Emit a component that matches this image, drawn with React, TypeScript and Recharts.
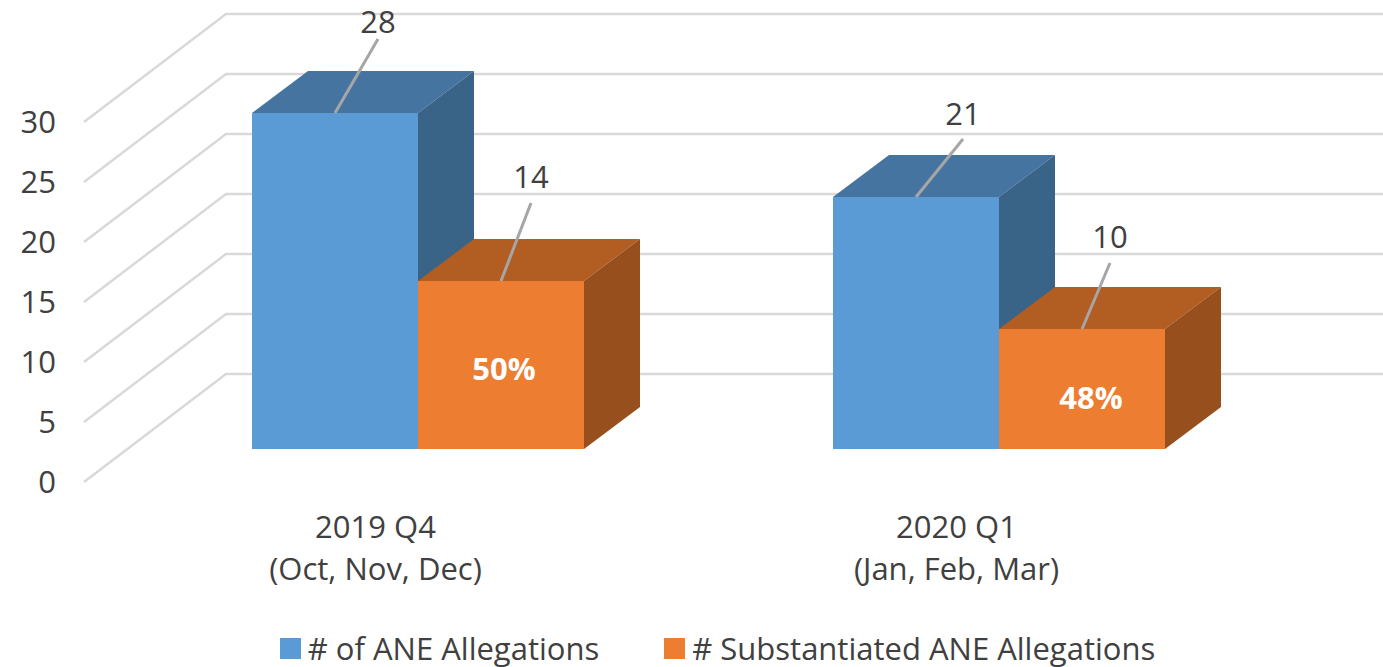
import {
  BarChart,
  Bar,
  XAxis,
  YAxis,
  CartesianGrid,
  Legend,
  LabelList,
} from "recharts";

const quarters = ["2019 Q4", "2020 Q1"];
const months = ["(Oct, Nov, Dec)", "(Jan, Feb, Mar)"];
const allegations = [28, 21];
const substantiated = [14, 10];
const percents = ["50%", "48%"];
const yTicks = [0, 5, 10, 15, 20, 25, 30];

const data = quarters.map((q, i) => ({
  quarter: q,
  months: months[i],
  allegations: allegations[i],
  substantiated: substantiated[i],
  percent: percents[i],
}));

const FONT = "'Open Sans', sans-serif";
const TEXT = "#404040";
const GRID = "#d9d9d9";
const LEADER = "#a6a6a6";

// how far the bars stand in front of the axis plane, and the depth of the box
const SHIFT = { x: 43, y: -33 };
const DEPTH = { x: 56, y: -42 };
const WALL = { x: 142, y: -108 };

// leader line ends, relative to the middle of the bar's front top edge
const leaderBlue = [
  { dx: 43, dy: -74, ty: -92 },
  { dx: 47, dy: -58, ty: -84 },
];
const leaderOrange = [
  { dx: 30, dy: -78, ty: -105 },
  { dx: 28, dy: -66, ty: -93 },
];
const percentOffset = [
  { dx: 3, dy: 87 },
  { dx: 9, dy: 68 },
];

function box(top: string, side: string) {
  return function Box(props: any) {
    const { x, y, width, height, fill } = props;
    const l = x + SHIFT.x;
    const t = y + SHIFT.y;
    const r = l + width;
    const b = t + height;
    const p = (pts: number[][]) => pts.map((c) => c.join(",")).join(" ");
    return (
      <g>
        <polygon
          fill={top}
          points={p([
            [l, t],
            [l + DEPTH.x, t + DEPTH.y],
            [r + DEPTH.x, t + DEPTH.y],
            [r, t],
          ])}
        />
        <polygon
          fill={side}
          points={p([
            [r, t],
            [r + DEPTH.x, t + DEPTH.y],
            [r + DEPTH.x, b + DEPTH.y],
            [r, b],
          ])}
        />
        <rect x={l} y={t} width={width} height={height} fill={fill} />
      </g>
    );
  };
}

function leaderLabel(ends: { dx: number; dy: number; ty: number }[]) {
  return function LeaderLabel(props: any) {
    const { viewBox, value, index } = props;
    const cx = viewBox.x + viewBox.width / 2 + SHIFT.x;
    const top = viewBox.y + SHIFT.y;
    const e = ends[index];
    return (
      <g>
        <line
          x1={cx}
          y1={top}
          x2={cx + e.dx}
          y2={top + e.dy}
          stroke={LEADER}
          strokeWidth={3}
        />
        <text
          x={cx + e.dx}
          y={top + e.ty}
          textAnchor="middle"
          dominantBaseline="central"
          fontFamily={FONT}
          fontSize={31}
          fill={TEXT}
        >
          {value}
        </text>
      </g>
    );
  };
}

function PercentLabel(props: any) {
  const { viewBox, value, index } = props;
  const o = percentOffset[index];
  return (
    <text
      x={viewBox.x + viewBox.width / 2 + SHIFT.x + o.dx}
      y={viewBox.y + SHIFT.y + o.dy}
      textAnchor="middle"
      dominantBaseline="central"
      fontFamily={FONT}
      fontSize={31}
      fontWeight={700}
      fill="#ffffff"
    >
      {value}
    </text>
  );
}

function WallLine(props: any) {
  const { x1, x2, y1 } = props;
  return (
    <polyline
      fill="none"
      stroke={GRID}
      strokeWidth={2.5}
      points={`${x1},${y1} ${x1 + WALL.x},${y1 + WALL.y} ${x2 + WALL.x},${y1 + WALL.y}`}
    />
  );
}

function QuarterTick(props: any) {
  const { x, y, index } = props;
  return (
    <g fontFamily={FONT} fontSize={31} fill={TEXT} textAnchor="middle">
      <text x={x + 1} y={y + 36} dominantBaseline="central">
        {quarters[index]}
      </text>
      <text x={x + 1} y={y + 78} dominantBaseline="central">
        {months[index]}
      </text>
    </g>
  );
}

function LegendRow({ payload }: any) {
  return (
    <div
      style={{
        display: "flex",
        justifyContent: "center",
        gap: 65,
        paddingLeft: 52,
        fontFamily: FONT,
        fontSize: 31,
        color: TEXT,
        lineHeight: "36px",
      }}
    >
      {payload.map((item: any) => (
        <div key={item.value} style={{ display: "flex", alignItems: "center" }}>
          <span
            style={{
              width: 21,
              height: 21,
              background: item.color,
              marginRight: 7,
            }}
          />
          {item.value}
        </div>
      ))}
    </div>
  );
}

export default function App() {
  return (
    <div style={{ position: "absolute", left: 0, top: 0, width: 1383, height: 667, overflow: "hidden" }}>
      <BarChart
        width={1383}
        height={667}
        data={data}
        barSize={166}
        barGap={0}
        barCategoryGap={0}
        margin={{ top: 122, right: 137, bottom: 0, left: 0 }}
      >
        <CartesianGrid vertical={false} horizontal={(p: any) => <WallLine {...p} />} />
        <XAxis
          dataKey="quarter"
          axisLine={false}
          tickLine={false}
          height={148}
          interval={0}
          tick={<QuarterTick />}
        />
        <YAxis
          domain={[0, 30]}
          ticks={yTicks}
          interval={0}
          width={84}
          axisLine={false}
          tickLine={false}
          tickMargin={22}
          tick={{ fontFamily: FONT, fontSize: 31, fill: TEXT }}
        />
        <Legend
          verticalAlign="bottom"
          itemSorter={null}
          wrapperStyle={{ left: 0, width: 1383, bottom: 0, top: 630 }}
          content={<LegendRow />}
        />
        <Bar
          dataKey="allegations"
          name="# of ANE Allegations"
          fill="#5b9bd5"
          isAnimationActive={false}
          shape={box("#4674a0", "#396387")}
        >
          <LabelList dataKey="allegations" content={leaderLabel(leaderBlue)} />
        </Bar>
        <Bar
          dataKey="substantiated"
          name="# Substantiated ANE Allegations"
          fill="#ed7d31"
          isAnimationActive={false}
          shape={box("#b25d21", "#974f1d")}
        >
          <LabelList dataKey="substantiated" content={leaderLabel(leaderOrange)} />
          <LabelList dataKey="percent" content={PercentLabel} />
        </Bar>
      </BarChart>
    </div>
  );
}
